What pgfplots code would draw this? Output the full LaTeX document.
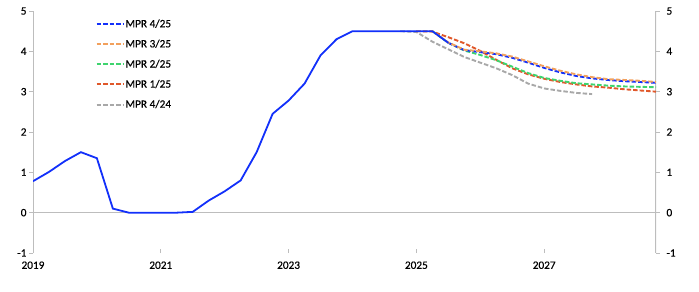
\documentclass[border=0pt]{standalone}
\usepackage{pgfplots}
\pgfplotsset{compat=1.18}
\usepackage{fontspec}
\setmainfont{Carlito}[FakeBold=0.4]
\definecolor{cblue}{HTML}{1230FA}
\definecolor{corange}{HTML}{F2A05C}
\definecolor{cgreen}{HTML}{3ED46E}
\definecolor{cred}{HTML}{E0582A}
\definecolor{cgray}{HTML}{A8A8A8}
\definecolor{axgray}{HTML}{BDBDBD}
\tikzset{mydash/.style={dash pattern=on 4.5bp off 2bp, line width=1.9bp}}
\begin{document}
\begin{tikzpicture}
\pgfplotsset{
  base/.style={scale only axis, width=623bp, height=242bp,
    xmin=2019, xmax=2028.75, ymin=-1, ymax=5,
    axis line style={draw=none},
    major tick length=4bp,
    tick style={axgray, line width=0.6bp},
    /pgf/number format/assume math mode=true,
    ticklabel style={font=\fontsize{11.3}{13}\selectfont},
  }
}
\begin{axis}[base, name=main,
  tick align=inside,
  xtick={2019,2021,2023,2025,2027},
  xticklabel style={/pgf/number format/1000 sep={}},
  xticklabel shift=5bp,
  xtick pos=bottom,
  ytick={-1,0,...,5}, ytick style={draw=none},
  yticklabel pos=left,
  yticklabel style={xshift=-3bp},
  legend style={draw=none, fill=none, at={(rel axis cs:0.1,0.97)}, anchor=north west,
    font=\fontsize{11.3}{13}\selectfont, row sep=8.8bp, inner sep=0pt,
    nodes={inner sep=1bp},
    legend cell align=left},
  legend image code/.code={\draw[#1] (0bp,0bp) -- (27bp,0bp);},
  legend image post style={line width=2bp, dash pattern=on 4.5bp off 2bp},
]
\draw[axgray, line width=0.8bp] (axis cs:2019,0) -- (axis cs:2028.75,0);
\draw[axgray, line width=0.8bp] (axis cs:2019,-1) -- (axis cs:2028.75,-1);
\draw[axgray, line width=0.8bp] (axis cs:2019,-1) -- (axis cs:2019,5);
\draw[axgray, line width=2.2bp] (axis cs:2028.75,-1) -- (axis cs:2028.75,5);

\addlegendimage{draw=cblue}
\addlegendentry{MPR 4/25}
\addlegendimage{draw=corange}
\addlegendentry{MPR 3/25}
\addlegendimage{draw=cgreen}
\addlegendentry{MPR 2/25}
\addlegendimage{draw=cred}
\addlegendentry{MPR 1/25}
\addlegendimage{draw=cgray}
\addlegendentry{MPR 4/24}

\addplot[cgray, mydash, forget plot] coordinates {
(2024.75,4.50) (2025.00,4.48) (2025.25,4.24) (2025.50,4.05) (2025.75,3.86)
(2026.00,3.72) (2026.25,3.58) (2026.50,3.41) (2026.75,3.20) (2027.00,3.08)
(2027.25,3.02) (2027.50,2.97) (2027.75,2.94)};
\addplot[cred, mydash, forget plot] coordinates {
(2025.00,4.50) (2025.25,4.49) (2025.50,4.35) (2025.75,4.20) (2026.00,4.01)
(2026.25,3.79) (2026.50,3.58) (2026.75,3.43) (2027.00,3.32) (2027.25,3.24)
(2027.50,3.18) (2027.75,3.13) (2028.00,3.10) (2028.25,3.06) (2028.50,3.03) (2028.75,3.00)};
\addplot[cgreen, mydash, forget plot] coordinates {
(2025.25,4.50) (2025.50,4.21) (2025.75,4.02) (2026.00,3.91) (2026.25,3.78)
(2026.50,3.62) (2026.75,3.46) (2027.00,3.34) (2027.25,3.27) (2027.50,3.21)
(2027.75,3.18) (2028.00,3.15) (2028.25,3.13) (2028.50,3.12) (2028.75,3.11)};
\addplot[cblue, mydash, forget plot] coordinates {
(2025.50,4.21) (2025.75,4.03) (2026.00,3.98) (2026.25,3.93) (2026.50,3.84)
(2026.75,3.72) (2027.00,3.59) (2027.25,3.48) (2027.50,3.39) (2027.75,3.33)
(2028.00,3.29) (2028.25,3.26) (2028.50,3.24) (2028.75,3.22)};
\addplot[corange, mydash, forget plot] coordinates {
(2025.00,4.50) (2025.25,4.50) (2025.50,4.22) (2025.75,4.04) (2026.00,4.00)
(2026.25,3.95) (2026.50,3.87) (2026.75,3.75) (2027.00,3.63) (2027.25,3.52)
(2027.50,3.43) (2027.75,3.36) (2028.00,3.31) (2028.25,3.29) (2028.50,3.27) (2028.75,3.24)};
\addplot[cblue, line width=1.8bp, forget plot] coordinates {
(2019.00,0.78) (2019.25,1.01) (2019.50,1.28) (2019.75,1.50) (2020.00,1.35)
(2020.25,0.10) (2020.50,0.00) (2020.75,0.00) (2021.00,0.00) (2021.25,0.00)
(2021.50,0.02) (2021.75,0.30) (2022.00,0.53) (2022.25,0.80) (2022.50,1.50)
(2022.75,2.45) (2023.00,2.78) (2023.25,3.20) (2023.50,3.90) (2023.75,4.30)
(2024.00,4.50) (2024.25,4.50) (2024.50,4.50) (2024.75,4.50) (2025.00,4.50)
(2025.25,4.50) (2025.50,4.21)};
\end{axis}
\begin{axis}[base,
  tick align=outside,
  xtick=\empty,
  ytick={-1,0,...,5},
  ytick pos=both, yticklabel pos=right,
  yticklabel style={xshift=3bp},
]
\end{axis}
\path (main.south west) ++(-33bp,-39bp) rectangle ++(699bp,292bp);
\end{tikzpicture}
\end{document}
